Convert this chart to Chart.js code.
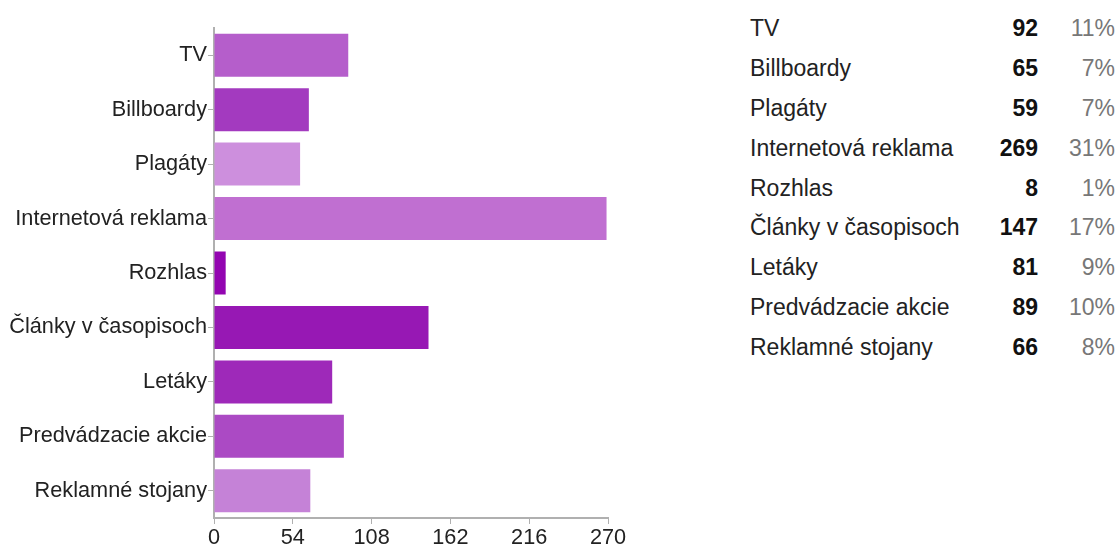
<!DOCTYPE html>
<html>
<head>
<meta charset="utf-8">
<script src="https://cdn.jsdelivr.net/npm/chart.js@4/dist/chart.umd.min.js"></script>
<style>
  html, body { margin: 0; padding: 0; background: #fff; }
  #wrap { position: relative; width: 1120px; height: 546px; overflow: hidden; }
  #chartBox { position: absolute; left: 0; top: 0; width: 640px; height: 546px; }
  #table { position: absolute; left: 750px; top: 8px; width: 370px;
    font-family: "Liberation Sans", Arial, sans-serif; font-size: 23px; color: #222; }
  .row { position: relative; height: 39.9px; line-height: 40px; }
  .row .num { position: absolute; right: 82px; top: 0; font-weight: bold; color: #111; }
  .row .pct { position: absolute; right: 5px; top: 0; color: #777; }
</style>
</head>
<body>
<div id="wrap">
  <div id="chartBox"><canvas id="chart"></canvas></div>
  <div id="table"></div>
</div>
<script>
const categories = ["TV", "Billboardy", "Plagáty", "Internetová reklama", "Rozhlas",
  "Články v časopisoch", "Letáky", "Predvádzacie akcie", "Reklamné stojany"];
const counts = [92, 65, 59, 269, 8, 147, 81, 89, 66];
const percents = ["11%", "7%", "7%", "31%", "1%", "17%", "9%", "10%", "8%"];
const xTicks = [0, 54, 108, 162, 216, 270];

const barColors = ["#b55ecb", "#a33abf", "#cd8fdd", "#c06fd1", "#9305b1",
  "#9718b4", "#9e29b9", "#ab4ac4", "#c582d7"];

// right side summary table
const table = document.getElementById("table");
categories.forEach((c, i) => {
  const row = document.createElement("div");
  row.className = "row";
  row.innerHTML = '<span class="lbl"></span><span class="num"></span><span class="pct"></span>';
  row.querySelector(".lbl").textContent = c;
  row.querySelector(".num").textContent = counts[i];
  row.querySelector(".pct").textContent = percents[i];
  table.appendChild(row);
});

const axisGray = "#b0b0b0";
const font = { family: "'Liberation Sans', Arial, sans-serif", size: 21.7 };

new Chart(document.getElementById("chart"), {
  type: "bar",
  data: {
    labels: categories,
    datasets: [{
      data: counts,
      backgroundColor: barColors,
      borderWidth: 0,
      categoryPercentage: 1,
      barPercentage: 0.79,
    }],
  },
  options: {
    indexAxis: "y",
    responsive: true,
    maintainAspectRatio: false,
    animation: false,
    layout: { padding: { top: 28, right: 32, left: 0, bottom: 0 } },
    plugins: { legend: { display: false }, tooltip: { enabled: false } },
    scales: {
      x: {
        min: 0,
        max: 270,
        afterBuildTicks: (axis) => { axis.ticks = xTicks.map(v => ({ value: v })); },
        afterFit: (axis) => { axis.height = 28; },
        grid: { drawOnChartArea: false, drawTicks: true, tickLength: 6, color: axisGray },
        border: { color: axisGray, width: 2 },
        ticks: { color: "#222", font: font, padding: 1, maxRotation: 0 },
      },
      y: {
        afterFit: (axis) => { axis.width = 214; },
        grid: { drawOnChartArea: false, drawTicks: true, tickLength: 6, color: axisGray, offset: false },
        border: { color: axisGray, width: 2 },
        ticks: { color: "#222", font: font, padding: 1 },
      },
    },
  },
});
</script>
</body>
</html>
